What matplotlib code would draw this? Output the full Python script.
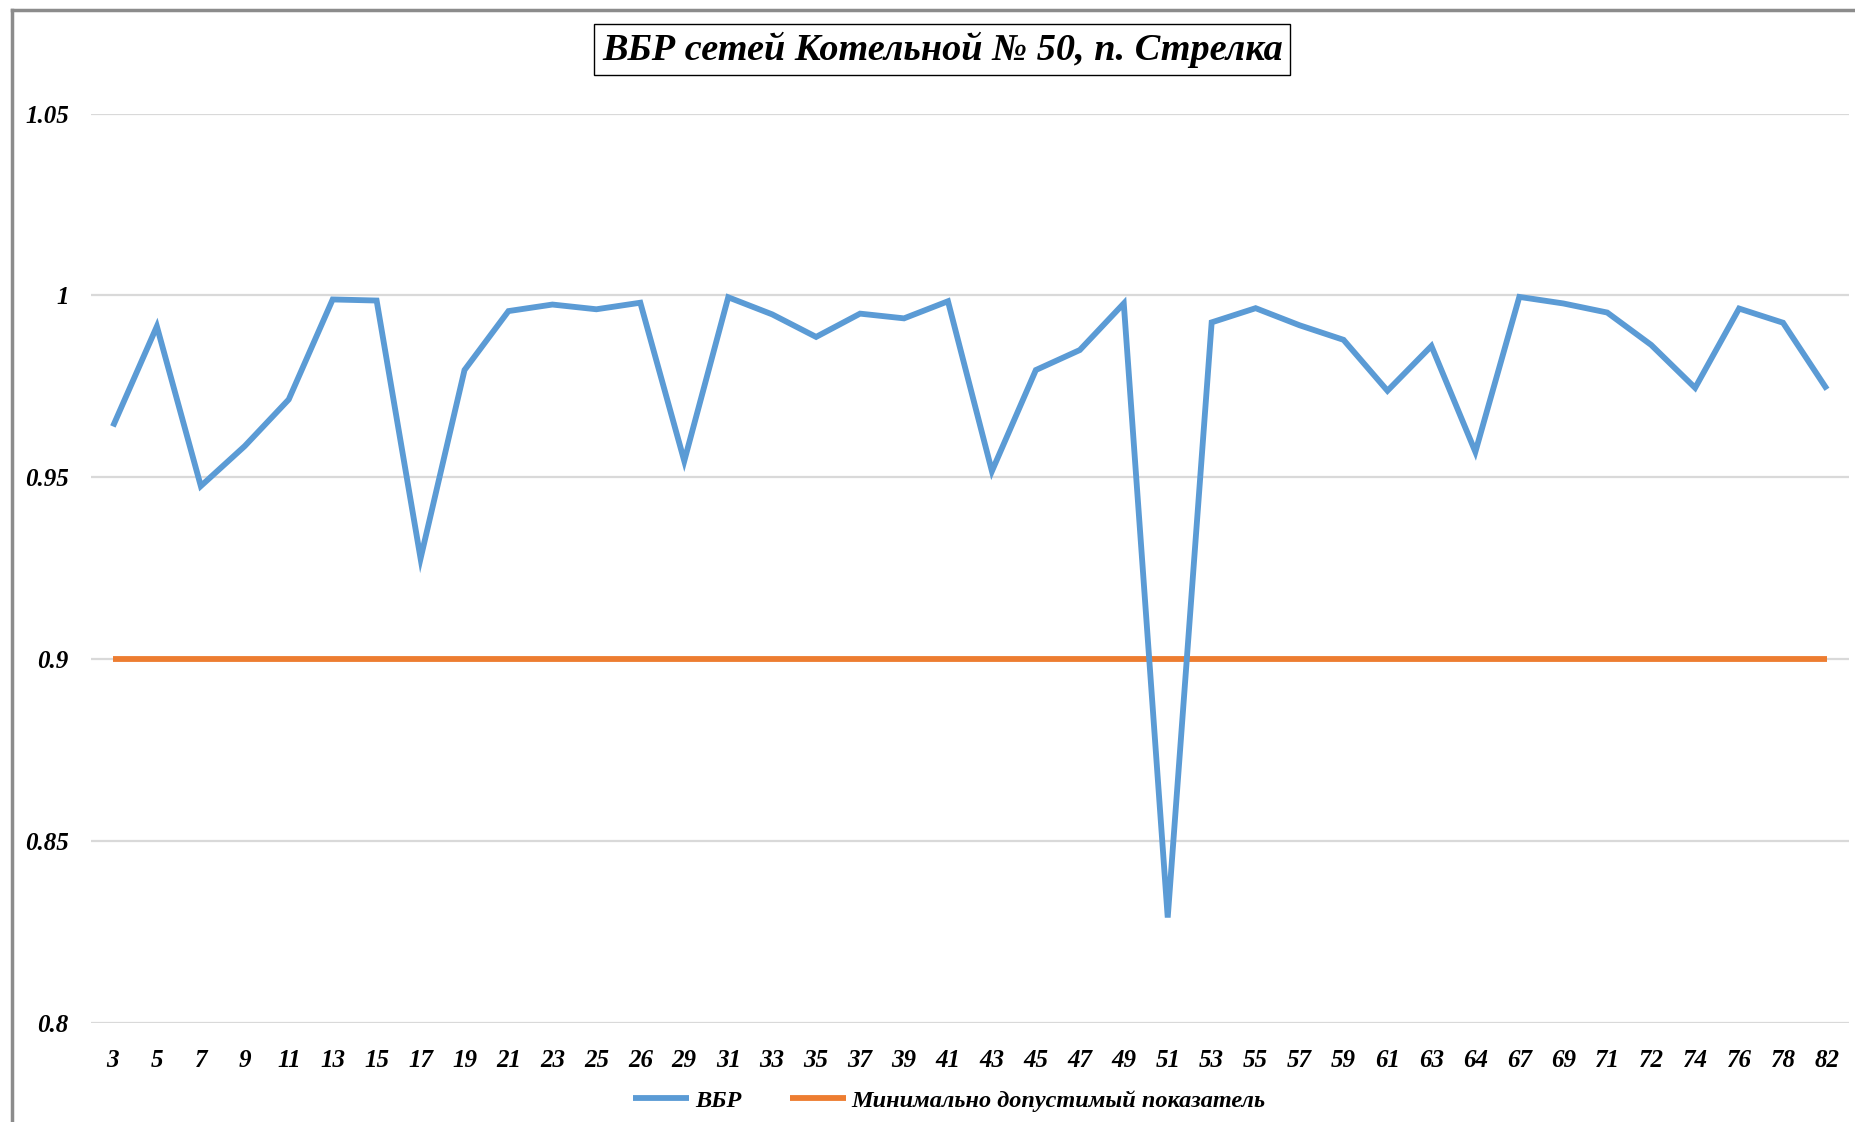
import matplotlib.pyplot as plt
from matplotlib.lines import Line2D

# ── data ─────────────────────────────────────────────────────────────────────
categories = ["3", "5", "7", "9", "11", "13", "15", "17", "19", "21",
              "23", "25", "26", "29", "31", "33", "35", "37", "39", "41",
              "43", "45", "47", "49", "51", "53", "55", "57", "59", "61",
              "63", "64", "67", "69", "71", "72", "74", "76", "78", "82"]

vbr = [0.964, 0.9915, 0.9476, 0.9586, 0.9714, 0.9989, 0.9986, 0.9277, 0.9795, 0.9957,
       0.9975, 0.9962, 0.998, 0.9545, 0.9995, 0.9948, 0.9886, 0.995, 0.9937, 0.9984,
       0.9517, 0.9795, 0.985, 0.9978, 0.829, 0.9926, 0.9965, 0.9918, 0.9878, 0.9738,
       0.9861, 0.957, 0.9996, 0.9978, 0.9953, 0.9864, 0.9746, 0.9964, 0.9925, 0.9742]

min_allowed = [0.9] * len(categories)

title = "ВБР сетей Котельной № 50, п. Стрелка"
label_vbr = "ВБР"
label_min = "Минимально допустимый показатель"

# ── style ────────────────────────────────────────────────────────────────────
BLUE = "#5B9BD5"
ORANGE = "#ED7D31"
GRID = "#D9D9D9"
FONT = "Liberation Serif"

plt.rcParams["font.family"] = [FONT, "DejaVu Serif"]
plt.rcParams["font.weight"] = "bold"
plt.rcParams["font.style"] = "italic"

fig = plt.figure(figsize=(18.56, 11.22), dpi=100)
ax = fig.add_axes([0.049, 0.0882, 0.9472, 0.8106])

x = list(range(len(categories)))
ax.plot(x, min_allowed, color=ORANGE, lw=4.2, solid_capstyle="butt",
        label=label_min, zorder=3)
ax.plot(x, vbr, color=BLUE, lw=4.2, solid_joinstyle="miter",
        solid_capstyle="butt", label=label_vbr, zorder=4)

ax.set_xlim(-0.5, len(categories) - 0.5)
ax.set_ylim(0.8, 1.05)
ax.set_yticks([0.8, 0.85, 0.9, 0.95, 1.0, 1.05])
ax.set_yticklabels(["0.8", "0.85", "0.9", "0.95", "1", "1.05"])
ax.set_xticks(x)
ax.set_xticklabels(categories)

ax.grid(axis="y", color=GRID, lw=1.6)
ax.set_axisbelow(True)
for s in ax.spines.values():
    s.set_visible(False)
ax.tick_params(axis="both", length=0, labelsize=18)
ax.tick_params(axis="y", pad=16)
ax.tick_params(axis="x", pad=19)

# legend: ВБР first, then minimum line
h, l = ax.get_legend_handles_labels()
leg = fig.legend([h[1], h[0]], [l[1], l[0]], loc="center",
                 bbox_to_anchor=(0.5115, 0.019), ncol=2, frameon=False,
                 fontsize=17.5, handlelength=2.3, handletextpad=0.25,
                 columnspacing=2.0)

# title in a thin black box
fig.text(0.5077, 0.956, title, ha="center", va="center", fontsize=27.5,
         bbox=dict(boxstyle="square,pad=0.2", fc="white", ec="black", lw=1))

# chart-area border, only top and left visible in the crop
fig.add_artist(Line2D([0.0065, 0.0065], [0, 0.9915], transform=fig.transFigure,
                      color="#8C8C8C", lw=2.5))
fig.add_artist(Line2D([0.0065, 1], [0.9915, 0.9915], transform=fig.transFigure,
                      color="#8C8C8C", lw=2.5))

fig.savefig("out.png", dpi=100)
